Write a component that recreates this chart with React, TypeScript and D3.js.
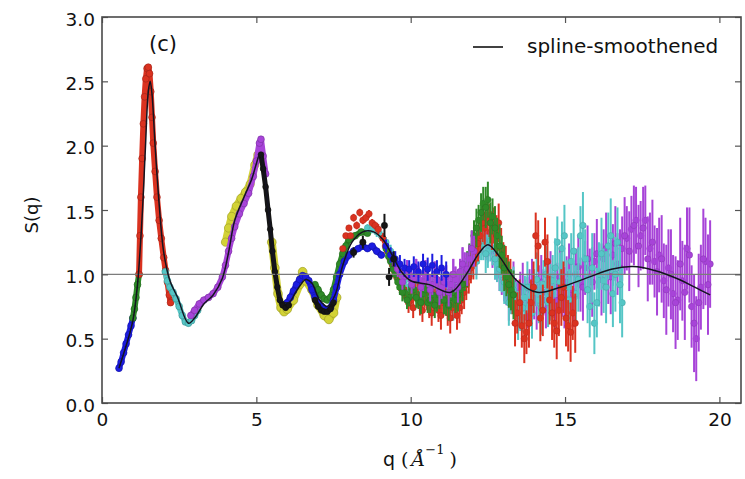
import { useEffect, useRef } from 'react'
import * as d3 from 'd3'

// [q, S(q), error]
type Pt = [number, number, number]

const xTicks = [0, 5, 10, 15, 20]
const yTicks = [0, 0.5, 1.0, 1.5, 2.0, 2.5, 3.0]

// low-q, dense data (no visible error bars)
const blueLow: Pt[] = [[0.55, 0.27, 0], [0.62, 0.32, 0], [0.7, 0.39, 0], [0.78, 0.46, 0], [0.86, 0.53, 0], [0.94, 0.6, 0], [1.0, 0.66, 0]]
const greenLow: Pt[] = [[1.0, 0.66, 0], [1.05, 0.73, 0], [1.1, 0.82, 0], [1.15, 0.92, 0], [1.2, 1.0, 0]]
const redLow: Pt[] = [
  [1.2, 1.0, 0], [1.23, 1.3, 0], [1.26, 1.6, 0], [1.3, 1.9, 0], [1.34, 2.17, 0], [1.38, 2.38, 0], [1.42, 2.52, 0],
  [1.46, 2.6, 0], [1.5, 2.61, 0], [1.54, 2.56, 0], [1.58, 2.42, 0], [1.62, 2.22, 0], [1.66, 2.02, 0], [1.72, 1.8, 0],
  [1.78, 1.6, 0], [1.85, 1.42, 0], [1.92, 1.28, 0], [2.0, 1.13, 0], [2.06, 1.03, 0], [2.12, 0.94, 0], [2.18, 0.84, 0], [2.22, 0.78, 0]
]
const cyanLow: Pt[] = [
  [2.05, 1.02, 0], [2.12, 0.95, 0], [2.2, 0.9, 0], [2.3, 0.86, 0], [2.4, 0.81, 0], [2.5, 0.75, 0], [2.6, 0.68, 0],
  [2.7, 0.63, 0], [2.8, 0.62, 0], [2.9, 0.64, 0], [3.0, 0.68, 0], [3.1, 0.72, 0]
]
const magentaLow: Pt[] = [
  [2.88, 0.68, 0], [3.0, 0.72, 0], [3.15, 0.77, 0], [3.3, 0.8, 0], [3.45, 0.82, 0], [3.6, 0.85, 0], [3.75, 0.9, 0],
  [3.9, 0.98, 0], [4.0, 1.07, 0], [4.1, 1.18, 0], [4.2, 1.28, 0], [4.3, 1.37, 0], [4.45, 1.47, 0], [4.6, 1.55, 0],
  [4.75, 1.63, 0], [4.9, 1.76, 0], [5.0, 1.88, 0], [5.1, 2.02, 0], [5.15, 2.05, 0], [5.22, 1.92, 0], [5.3, 1.78, 0]
]
const yellowA: Pt[] = [
  [4.0, 1.25, 0], [4.1, 1.36, 0], [4.2, 1.45, 0], [4.35, 1.53, 0], [4.5, 1.59, 0], [4.65, 1.64, 0], [4.8, 1.7, 0],
  [4.95, 1.85, 0], [5.05, 1.93, 0], [5.12, 1.95, 0]
]
const yellowB: Pt[] = [
  [5.5, 1.25, 0], [5.6, 1.05, 0], [5.7, 0.85, 0], [5.8, 0.74, 0], [5.9, 0.71, 0], [6.0, 0.73, 0], [6.2, 0.8, 0],
  [6.4, 0.92, 0], [6.5, 1.02, 0], [6.6, 0.95, 0], [6.8, 0.88, 0], [7.0, 0.76, 0], [7.2, 0.68, 0], [7.35, 0.65, 0],
  [7.5, 0.7, 0], [7.6, 0.82, 0]
]
const blackA: Pt[] = [
  [5.15, 1.93, 0], [5.22, 1.82, 0], [5.3, 1.68, 0], [5.38, 1.5, 0], [5.45, 1.35, 0], [5.52, 1.18, 0], [5.6, 1.02, 0],
  [5.68, 0.9, 0], [5.76, 0.8, 0], [5.85, 0.76, 0], [5.95, 0.74, 0], [6.05, 0.76, 0]
]
const blackB: Pt[] = [[6.9, 0.8, 0], [7.0, 0.75, 0], [7.1, 0.72, 0], [7.2, 0.71, 0], [7.3, 0.71, 0], [7.4, 0.73, 0], [7.5, 0.78, 0]]
const blueMid: Pt[] = [
  [6.0, 0.78, 0], [6.1, 0.82, 0], [6.2, 0.87, 0], [6.3, 0.92, 0], [6.4, 0.96, 0], [6.5, 0.99, 0], [6.6, 0.98, 0],
  [6.7, 0.95, 0], [6.8, 0.88, 0], [6.9, 0.82, 0], [7.0, 0.78, 0], [7.1, 0.75, 0], [7.2, 0.73, 0], [7.3, 0.72, 0],
  [7.4, 0.74, 0], [7.5, 0.8, 0], [7.6, 0.9, 0], [7.7, 1.0, 0], [7.85, 1.1, 0], [8.0, 1.15, 0], [8.15, 1.18, 0],
  [8.3, 1.2, 0], [8.45, 1.22, 0], [8.6, 1.2, 0], [8.75, 1.22, 0], [8.9, 1.18, 0], [9.05, 1.15, 0]
]
const greenMid: Pt[] = [
  [6.9, 0.92, 0], [7.0, 0.88, 0], [7.1, 0.84, 0], [7.2, 0.81, 0], [7.3, 0.8, 0], [7.4, 0.82, 0], [7.5, 0.88, 0],
  [7.6, 0.98, 0], [7.7, 1.08, 0], [7.8, 1.16, 0], [7.9, 1.22, 0], [8.0, 1.27, 0], [8.2, 1.3, 0], [8.4, 1.33, 0], [8.6, 1.32, 0]
]

// high-q, noisy data with error bars
const blueHigh: Pt[] = [
  [9.2, 1.22, 0.05], [9.35, 1.15, 0.06], [9.5, 1.12, 0.06], [9.65, 1.08, 0.07], [9.8, 1.05, 0.07], [9.95, 1.04, 0.07],
  [10.1, 1.06, 0.08], [10.25, 1.02, 0.08], [10.4, 1.08, 0.08], [10.55, 1.04, 0.09], [10.7, 1.07, 0.09], [10.85, 1.02, 0.09],
  [11.0, 1.05, 0.1], [11.15, 1.0, 0.1]
]
const redHigh: Pt[] = [
  [7.8, 1.2, 0.02], [7.9, 1.3, 0.02], [8.0, 1.36, 0.02], [8.05, 1.3, 0.02], [8.15, 1.44, 0.03], [8.25, 1.38, 0.03],
  [8.35, 1.48, 0.03], [8.45, 1.42, 0.03], [8.55, 1.44, 0.03], [8.65, 1.47, 0.03], [8.75, 1.4, 0.03], [8.85, 1.38, 0.03],
  [8.95, 1.35, 0.04], [9.1, 1.28, 0.04], [9.25, 1.18, 0.05], [9.4, 1.08, 0.05], [9.55, 0.98, 0.05], [9.7, 0.9, 0.06],
  [9.85, 0.84, 0.06], [10.0, 0.8, 0.07], [10.15, 0.86, 0.07], [10.3, 0.76, 0.08], [10.45, 0.82, 0.08], [10.6, 0.74, 0.08],
  [10.75, 0.8, 0.09], [10.9, 0.72, 0.09], [11.05, 0.78, 0.1], [11.2, 0.7, 0.1], [11.35, 0.74, 0.1], [11.5, 0.68, 0.11],
  [11.65, 0.8, 0.11], [11.8, 0.92, 0.12], [11.95, 1.05, 0.12], [12.1, 1.18, 0.12], [12.25, 1.3, 0.13], [12.4, 1.36, 0.13],
  [12.55, 1.42, 0.13], [12.7, 1.38, 0.14], [12.85, 1.4, 0.15], [13.0, 1.1, 0.15], [13.15, 1.0, 0.15], [13.3, 0.85, 0.16],
  [13.45, 0.7, 0.16], [13.6, 0.6, 0.17], [13.75, 0.55, 0.17], [13.9, 0.78, 0.18], [14.05, 1.3, 0.18], [14.2, 0.66, 0.18],
  [14.35, 1.25, 0.19], [14.5, 0.8, 0.19], [14.65, 0.62, 0.19], [14.8, 0.72, 0.2], [14.95, 0.9, 0.2], [15.1, 0.6, 0.2],
  [15.25, 0.7, 0.21]
]
const redHigh2: Pt[] = [
  [9.18, 1.22, 0.05], [9.33, 1.12, 0.06], [9.48, 1.02, 0.06], [9.63, 0.94, 0.07], [9.78, 0.88, 0.07], [9.93, 0.78, 0.08],
  [10.08, 0.74, 0.08], [10.23, 0.84, 0.09], [10.38, 0.72, 0.09], [10.53, 0.86, 0.1], [10.68, 0.7, 0.1], [10.83, 0.84, 0.1],
  [10.98, 0.68, 0.11], [11.13, 0.82, 0.11], [11.28, 0.66, 0.12], [11.43, 0.78, 0.12], [11.58, 0.74, 0.12], [11.73, 0.86, 0.13],
  [11.88, 0.98, 0.13], [12.03, 1.1, 0.14], [12.18, 1.24, 0.14], [12.33, 1.4, 0.15], [12.48, 1.46, 0.15], [12.63, 1.34, 0.15],
  [12.78, 1.3, 0.16], [12.93, 1.2, 0.16], [13.08, 1.05, 0.17], [13.23, 0.95, 0.17], [13.38, 0.62, 0.18], [13.53, 0.78, 0.18],
  [13.68, 0.5, 0.19], [13.83, 0.62, 0.19], [13.98, 0.9, 0.2], [14.13, 1.22, 0.2], [14.28, 0.72, 0.2], [14.43, 1.1, 0.21],
  [14.58, 0.7, 0.21], [14.73, 0.56, 0.22], [14.88, 0.82, 0.22], [15.03, 0.66, 0.22], [15.18, 0.55, 0.23], [15.33, 0.62, 0.23]
]
const greenHigh: Pt[] = [
  [9.2, 1.2, 0.04], [9.35, 1.1, 0.05], [9.5, 1.0, 0.05], [9.65, 0.9, 0.06], [9.8, 0.86, 0.06], [9.95, 0.82, 0.07],
  [10.1, 0.88, 0.07], [10.25, 0.8, 0.07], [10.4, 0.85, 0.08], [10.55, 0.78, 0.08], [10.7, 0.84, 0.09], [10.85, 0.8, 0.09],
  [11.0, 0.86, 0.09], [11.15, 0.78, 0.1], [11.3, 0.82, 0.1], [11.45, 0.8, 0.1], [11.6, 0.88, 0.11], [11.75, 0.98, 0.11],
  [11.9, 1.12, 0.12], [12.05, 1.3, 0.12], [12.2, 1.42, 0.12], [12.35, 1.55, 0.13], [12.5, 1.58, 0.14], [12.65, 1.45, 0.14],
  [12.8, 1.3, 0.14], [12.95, 1.15, 0.15], [13.1, 0.98, 0.15], [13.25, 0.88, 0.16]
]
const greenHigh2: Pt[] = [
  [9.28, 1.14, 0.05], [9.43, 1.04, 0.06], [9.58, 0.94, 0.06], [9.73, 0.86, 0.07], [9.88, 0.8, 0.07], [10.03, 0.9, 0.08],
  [10.18, 0.82, 0.08], [10.33, 0.78, 0.09], [10.48, 0.88, 0.09], [10.63, 0.8, 0.1], [10.78, 0.76, 0.1], [10.93, 0.84, 0.11],
  [11.08, 0.8, 0.11], [11.23, 0.76, 0.12], [11.38, 0.86, 0.12], [11.53, 0.84, 0.13], [11.68, 0.92, 0.13], [11.83, 1.04, 0.14],
  [11.98, 1.2, 0.14], [12.13, 1.36, 0.15], [12.28, 1.48, 0.15], [12.43, 1.52, 0.16], [12.58, 1.4, 0.16], [12.73, 1.36, 0.17],
  [12.88, 1.22, 0.17], [13.03, 1.05, 0.18], [13.18, 0.92, 0.18], [13.33, 0.84, 0.19]
]
const cyanHigh: Pt[] = [
  [8.6, 1.36, 0.03], [8.75, 1.35, 0.03], [8.9, 1.33, 0.04], [9.05, 1.3, 0.04], [9.2, 1.25, 0.04], [9.35, 1.18, 0.05],
  [9.5, 1.1, 0.05], [9.65, 1.02, 0.05], [9.8, 0.95, 0.06], [9.95, 0.9, 0.06], [10.1, 0.92, 0.07], [10.25, 0.86, 0.07],
  [10.4, 0.9, 0.07], [10.55, 0.84, 0.08], [10.7, 0.92, 0.08], [10.85, 0.86, 0.09], [11.0, 0.82, 0.09], [11.15, 0.88, 0.09],
  [11.3, 0.8, 0.1], [11.45, 0.86, 0.1], [11.6, 0.92, 0.11], [11.75, 1.0, 0.11], [11.9, 1.08, 0.11], [12.05, 1.16, 0.12],
  [12.2, 1.2, 0.12], [12.35, 1.24, 0.13], [12.5, 1.18, 0.13], [12.65, 1.2, 0.13], [12.8, 1.08, 0.14], [12.95, 1.0, 0.14],
  [13.1, 0.92, 0.15], [13.25, 0.84, 0.15], [13.4, 0.78, 0.16], [13.55, 0.72, 0.16], [13.7, 0.82, 0.17], [13.85, 0.76, 0.17],
  [14.0, 0.86, 0.18], [14.15, 0.8, 0.18], [14.3, 0.92, 0.19], [14.45, 0.78, 0.19], [14.6, 0.95, 0.2], [14.75, 1.25, 0.2],
  [14.9, 1.2, 0.21], [15.05, 0.9, 0.21], [15.2, 1.1, 0.22], [15.35, 0.85, 0.22], [15.5, 1.3, 0.23], [15.65, 1.12, 0.23],
  [15.8, 0.75, 0.24], [15.95, 0.62, 0.24], [16.1, 1.0, 0.25], [16.25, 0.95, 0.25], [16.4, 1.22, 0.26], [16.55, 0.85, 0.26],
  [16.7, 1.25, 0.27], [16.85, 0.78, 0.27]
]
const cyanHigh2: Pt[] = [
  [9.58, 1.05, 0.06], [9.73, 0.98, 0.06], [9.88, 0.86, 0.07], [10.03, 0.84, 0.07], [10.18, 0.96, 0.08], [10.33, 0.8, 0.08],
  [10.48, 0.94, 0.09], [10.63, 0.8, 0.09], [10.78, 0.9, 0.1], [10.93, 0.78, 0.1], [11.08, 0.92, 0.11], [11.23, 0.84, 0.11],
  [11.38, 0.76, 0.12], [11.53, 0.9, 0.12], [11.68, 0.96, 0.13], [11.83, 1.04, 0.13], [11.98, 1.12, 0.14], [12.13, 1.1, 0.14],
  [12.28, 1.26, 0.15], [12.43, 1.16, 0.15], [12.58, 1.26, 0.16], [12.73, 1.12, 0.16], [12.88, 1.04, 0.17], [13.03, 0.94, 0.17],
  [13.18, 0.78, 0.18], [13.33, 0.88, 0.18], [13.48, 0.68, 0.19], [13.63, 0.74, 0.19], [13.78, 0.9, 0.2], [13.93, 0.7, 0.2],
  [14.08, 0.96, 0.21], [14.23, 0.74, 0.21], [14.38, 1.0, 0.22], [14.53, 0.86, 0.22], [14.68, 1.05, 0.23], [14.83, 0.94, 0.23],
  [14.98, 1.3, 0.24], [15.13, 0.8, 0.24], [15.28, 1.18, 0.25], [15.43, 0.96, 0.25], [15.58, 1.38, 0.26], [15.73, 0.88, 0.26],
  [15.88, 1.05, 0.27], [16.03, 0.78, 0.27], [16.18, 1.16, 0.28], [16.33, 0.9, 0.28], [16.48, 1.3, 0.29], [16.63, 1.0, 0.29],
  [16.78, 0.92, 0.3]
]
const magentaHigh: Pt[] = [
  [9.5, 1.08, 0.05], [9.65, 1.02, 0.05], [9.8, 0.98, 0.06], [9.95, 1.0, 0.06], [10.1, 0.96, 0.07], [10.25, 1.0, 0.07],
  [10.4, 0.94, 0.07], [10.55, 0.98, 0.08], [10.7, 0.92, 0.08], [10.85, 0.96, 0.09], [11.0, 0.9, 0.09], [11.15, 0.98, 0.09],
  [11.3, 0.92, 0.1], [11.45, 0.96, 0.1], [11.6, 1.02, 0.1], [11.75, 1.06, 0.11], [11.9, 1.12, 0.11], [12.05, 1.18, 0.12],
  [12.2, 1.24, 0.12], [12.35, 1.28, 0.12], [12.5, 1.22, 0.13], [12.65, 1.18, 0.13], [12.8, 1.08, 0.14], [12.95, 0.98, 0.14],
  [13.1, 0.9, 0.14], [13.25, 0.86, 0.15], [13.4, 0.82, 0.15], [13.55, 0.86, 0.16], [13.7, 0.8, 0.16], [13.85, 0.88, 0.16],
  [14.0, 0.82, 0.17], [14.15, 0.9, 0.17], [14.3, 0.86, 0.18], [14.45, 0.92, 0.18], [14.6, 0.84, 0.18], [14.75, 0.9, 0.19],
  [14.9, 0.86, 0.19], [15.05, 0.94, 0.2], [15.2, 0.88, 0.2], [15.35, 1.0, 0.2], [15.5, 0.92, 0.21], [15.65, 1.05, 0.21],
  [15.8, 0.98, 0.22], [15.95, 1.1, 0.22], [16.1, 1.02, 0.22], [16.25, 1.12, 0.23], [16.4, 1.0, 0.23], [16.55, 1.15, 0.24],
  [16.7, 1.08, 0.24], [16.85, 1.2, 0.25], [17.0, 1.28, 0.25], [17.15, 1.35, 0.26], [17.3, 1.42, 0.26], [17.45, 1.3, 0.27],
  [17.6, 1.42, 0.27], [17.75, 1.2, 0.28], [17.9, 1.1, 0.28], [18.05, 1.15, 0.29], [18.2, 0.95, 0.29], [18.35, 1.05, 0.3],
  [18.5, 0.85, 0.3], [18.65, 0.8, 0.31], [18.8, 0.95, 0.31], [18.95, 1.2, 0.32], [19.1, 0.75, 0.32], [19.25, 0.5, 0.33],
  [19.4, 0.9, 0.33], [19.55, 1.1, 0.34], [19.7, 1.08, 0.34]
]
const magentaHigh2: Pt[] = [
  [9.58, 1.04, 0.06], [9.73, 0.94, 0.06], [9.88, 1.04, 0.07], [10.03, 0.92, 0.07], [10.18, 1.04, 0.08], [10.33, 0.9, 0.08],
  [10.48, 1.02, 0.09], [10.63, 0.88, 0.09], [10.78, 1.0, 0.1], [10.93, 0.86, 0.1], [11.08, 0.94, 0.11], [11.23, 0.86, 0.11],
  [11.38, 1.0, 0.12], [11.53, 0.9, 0.12], [11.68, 1.08, 0.13], [11.83, 1.04, 0.13], [11.98, 1.2, 0.14], [12.13, 1.14, 0.14],
  [12.28, 1.32, 0.15], [12.43, 1.26, 0.15], [12.58, 1.3, 0.16], [12.73, 1.12, 0.16], [12.88, 1.04, 0.17], [13.03, 0.96, 0.17],
  [13.18, 0.82, 0.18], [13.33, 0.92, 0.18], [13.48, 0.76, 0.19], [13.63, 0.9, 0.19], [13.78, 0.78, 0.2], [13.93, 0.92, 0.2],
  [14.08, 0.78, 0.21], [14.23, 0.94, 0.21], [14.38, 0.8, 0.22], [14.53, 0.96, 0.22], [14.68, 0.8, 0.23], [14.83, 0.98, 0.23],
  [14.98, 0.82, 0.24], [15.13, 1.0, 0.24], [15.28, 0.84, 0.25], [15.43, 1.06, 0.25], [15.58, 0.9, 0.26], [15.73, 1.12, 0.26],
  [15.88, 0.94, 0.27], [16.03, 1.16, 0.27], [16.18, 0.96, 0.28], [16.33, 1.2, 0.28], [16.48, 0.98, 0.29], [16.63, 1.24, 0.29],
  [16.78, 1.05, 0.3], [16.93, 1.3, 0.3], [17.08, 1.18, 0.31], [17.23, 1.38, 0.31], [17.38, 1.22, 0.32], [17.53, 1.36, 0.32],
  [17.68, 1.12, 0.33], [17.83, 1.25, 0.33], [17.98, 1.02, 0.34], [18.13, 1.12, 0.34], [18.28, 0.88, 0.35], [18.43, 1.0, 0.35],
  [18.58, 0.78, 0.36], [18.73, 1.08, 0.36], [18.88, 0.86, 0.37], [19.03, 1.15, 0.37], [19.18, 0.62, 0.38], [19.33, 0.78, 0.38],
  [19.48, 1.12, 0.39], [19.63, 0.92, 0.39]
]
const blackHigh: Pt[] = [[8.15, 1.17, 0.04], [8.45, 1.25, 0.05], [9.15, 1.38, 0.09], [9.3, 0.98, 0.07], [9.45, 1.12, 0.06]]

// spline-smoothened S(q)
const splineQ = [0.55, 0.8, 1.0, 1.15, 1.3, 1.4, 1.5, 1.56, 1.62, 1.72, 1.85, 2.0, 2.2, 2.45, 2.8, 3.0, 3.3, 3.6, 3.9, 4.1, 4.3, 4.6, 4.85, 5.0, 5.12, 5.25, 5.45, 5.65, 5.85, 6.05, 6.3, 6.6, 6.8, 7.05, 7.3, 7.55, 7.8, 8.1, 8.45, 8.8, 9.1, 9.4, 9.7, 10.0, 10.6, 11.3, 11.8, 12.2, 12.5, 12.9, 13.4, 14.1, 14.85, 15.8, 16.5, 17.2, 17.9, 18.7, 19.2, 19.7]
const splineS = [0.27, 0.46, 0.64, 0.92, 1.45, 1.95, 2.42, 2.5, 2.4, 2.0, 1.55, 1.17, 0.95, 0.82, 0.62, 0.66, 0.77, 0.84, 0.97, 1.17, 1.42, 1.6, 1.74, 1.86, 1.94, 1.8, 1.38, 0.98, 0.79, 0.78, 0.87, 0.96, 0.93, 0.8, 0.75, 0.84, 1.07, 1.25, 1.33, 1.33, 1.27, 1.15, 1.02, 0.95, 0.92, 0.86, 1.0, 1.16, 1.23, 1.13, 0.96, 0.86, 0.9, 0.98, 1.04, 1.06, 1.03, 0.96, 0.9, 0.84]

const C = {
  b: '#1c1ce0', g: '#2e8a28', r: '#da3220', c: '#55c6c6', m: '#a744d8', y: '#d2d236', k: '#151515'
}

// drawing order: later entries sit on top; qMax limits a layer to the low-q part
const series = [
  { data: yellowA, color: C.y, dense: true, w: 7.5, qMax: 99 },
  { data: yellowB, color: C.y, dense: true, w: 8, qMax: 99 },
  { data: blueLow, color: C.b, dense: true, w: 6, qMax: 99 },
  { data: greenLow, color: C.g, dense: true, w: 6, qMax: 99 },
  { data: redLow, color: C.r, dense: true, w: 6, qMax: 99 },
  { data: cyanLow, color: C.c, dense: true, w: 6, qMax: 99 },
  { data: magentaLow, color: C.m, dense: true, w: 6, qMax: 99 },
  { data: greenMid, color: C.g, dense: true, w: 6, qMax: 99 },
  { data: blueMid, color: C.b, dense: true, w: 6, qMax: 99 },
  { data: blackA, color: C.k, dense: true, w: 5, qMax: 99 },
  { data: blackB, color: C.k, dense: true, w: 5, qMax: 99 },
  { data: magentaHigh, color: C.m, dense: false, w: 0, qMax: 99 },
  { data: magentaHigh2, color: C.m, dense: false, w: 0, qMax: 99 },
  { data: cyanHigh, color: C.c, dense: false, w: 0, qMax: 99 },
  { data: cyanHigh2, color: C.c, dense: false, w: 0, qMax: 99 },
  { data: redHigh, color: C.r, dense: false, w: 0, qMax: 99 },
  { data: redHigh2, color: C.r, dense: false, w: 0, qMax: 99 },
  { data: greenHigh, color: C.g, dense: false, w: 0, qMax: 99 },
  { data: greenHigh2, color: C.g, dense: false, w: 0, qMax: 99 },
  { data: magentaHigh, color: C.m, dense: false, w: 0, qMax: 12.1 },
  { data: magentaHigh2, color: C.m, dense: false, w: 0, qMax: 12.1 },
  { data: blueHigh, color: C.b, dense: false, w: 0, qMax: 99 },
  { data: blackHigh, color: C.k, dense: false, w: 0, qMax: 99 }
]

export default function App() {
  const ref = useRef<SVGSVGElement>(null)

  useEffect(() => {
    const width = 745, height = 479
    const margin = { top: 17, right: 4, bottom: 76, left: 102 }
    const font = '"DejaVu Sans", sans-serif'

    const x = d3.scaleLinear().domain([0, 20.7]).range([margin.left, width - margin.right])
    const y = d3.scaleLinear().domain([0, 3]).range([height - margin.bottom, margin.top])

    const svg = d3.select(ref.current)
    svg.selectAll('*').remove()
    svg.attr('width', width).attr('height', height).attr('viewBox', [0, 0, width, height])
      .style('font-family', font)

    svg.append('rect').attr('width', width).attr('height', height).attr('fill', '#fff')

    const plot = svg.append('g')

    // data series
    series.forEach(s => {
      const g = plot.append('g')
      const data = s.data.filter(d => d[0] <= s.qMax)
      if (s.dense) {
        g.append('path')
          .datum(data)
          .attr('fill', 'none')
          .attr('stroke', s.color)
          .attr('stroke-width', s.w)
          .attr('stroke-linejoin', 'round')
          .attr('stroke-linecap', 'round')
          .attr('d', d3.line<Pt>().x(d => x(d[0])).y(d => y(d[1])))
        g.selectAll('circle').data(data).join('circle')
          .attr('cx', d => x(d[0])).attr('cy', d => y(d[1]))
          .attr('r', s.w / 2 + 0.4)
          .attr('fill', s.color)
          .attr('stroke', d3.color(s.color)!.darker(0.9).formatHex())
          .attr('stroke-width', 0.6)
      } else {
        g.selectAll('line').data(data).join('line')
          .attr('x1', d => x(d[0])).attr('x2', d => x(d[0]))
          .attr('y1', d => y(d[1] - d[2])).attr('y2', d => y(d[1] + d[2]))
          .attr('stroke', s.color)
          .attr('stroke-width', 2)
        g.selectAll('circle').data(data).join('circle')
          .attr('cx', d => x(d[0])).attr('cy', d => y(d[1]))
          .attr('r', 3.2)
          .attr('fill', s.color)
          .attr('stroke', d3.color(s.color)!.darker(0.6).formatHex())
          .attr('stroke-width', 0.5)
      }
    })

    // reference line S(q) = 1
    plot.append('line')
      .attr('x1', x.range()[0]).attr('x2', x.range()[1])
      .attr('y1', y(1)).attr('y2', y(1))
      .attr('stroke', '#7c7c7c').attr('stroke-width', 1.3)

    // spline
    const pts = splineQ.map((q, i) => [q, splineS[i]] as [number, number])
    plot.append('path')
      .datum(pts)
      .attr('fill', 'none')
      .attr('stroke', '#141420')
      .attr('stroke-width', 1.5)
      .attr('d', d3.line<[number, number]>().x(d => x(d[0])).y(d => y(d[1])).curve(d3.curveCatmullRom))

    // axes
    const styleAxis = (g: d3.Selection<SVGGElement, unknown, null, undefined>) => {
      g.select('.domain').remove()
      g.selectAll('.tick line').attr('stroke', '#555').attr('stroke-width', 1.2)
      g.selectAll('.tick text').attr('fill', '#111').style('font-family', font).style('font-size', '18.5px')
    }
    svg.append('g')
      .attr('transform', `translate(0,${y(0)})`)
      .call(d3.axisBottom(x).tickValues(xTicks).tickSizeInner(-6).tickSizeOuter(0).tickPadding(10).tickFormat(d3.format('d')))
      .call(styleAxis)
    svg.append('g')
      .attr('transform', `translate(${x(0)},0)`)
      .call(d3.axisLeft(y).tickValues(yTicks).tickSizeInner(-6).tickSizeOuter(0).tickPadding(7).tickFormat(d3.format('.1f')))
      .call(styleAxis)
      .call(g => g.selectAll('.tick text').attr('dy', '0.45em'))
    svg.append('g')
      .attr('transform', `translate(0,${y(3)})`)
      .call(d3.axisTop(x).tickValues(xTicks).tickSizeInner(-6).tickSizeOuter(0).tickFormat(() => ''))
      .call(styleAxis)
    svg.append('g')
      .attr('transform', `translate(${x.range()[1]},0)`)
      .call(d3.axisRight(y).tickValues(yTicks).tickSizeInner(-6).tickSizeOuter(0).tickFormat(() => ''))
      .call(styleAxis)

    // frame
    svg.append('rect')
      .attr('x', x.range()[0]).attr('y', y(3))
      .attr('width', x.range()[1] - x.range()[0]).attr('height', y(0) - y(3))
      .attr('fill', 'none').attr('stroke', '#4a4a4a').attr('stroke-width', 1.6)

    // panel label
    svg.append('text')
      .attr('x', 163).attr('y', 51)
      .attr('text-anchor', 'middle')
      .style('font-size', '21px').attr('fill', '#111')
      .text('(c)')

    // legend
    svg.append('line')
      .attr('x1', 473).attr('x2', 503).attr('y1', 47).attr('y2', 47)
      .attr('stroke', '#111').attr('stroke-width', 1.6)
    svg.append('text')
      .attr('x', 527).attr('y', 53)
      .style('font-size', '20px').attr('fill', '#111')
      .text('spline-smoothened')

    // axis labels
    svg.append('text')
      .attr('transform', 'translate(38,215) rotate(-90)')
      .attr('text-anchor', 'middle')
      .style('font-size', '18px').attr('fill', '#111')
      .text('S(q)')

    const xl = svg.append('text')
      .attr('x', 383).attr('y', 466)
      .style('font-size', '19px').attr('fill', '#111')
    xl.append('tspan').text('q ')
    xl.append('tspan').style('font-family', '"DejaVu Serif", serif').text('(')
    xl.append('tspan').style('font-family', '"DejaVu Serif", serif').style('font-style', 'italic').attr('dx', 3).text('Å')
    xl.append('tspan').style('font-family', '"DejaVu Serif", serif').style('font-size', '13px').attr('dy', -12).text('−1')
    xl.append('tspan').style('font-family', '"DejaVu Serif", serif').attr('dy', 12).attr('dx', 5).text(')')
  }, [])

  return <svg ref={ref} style={{ position: 'absolute', left: 0, top: 0, display: 'block' }} />
}
